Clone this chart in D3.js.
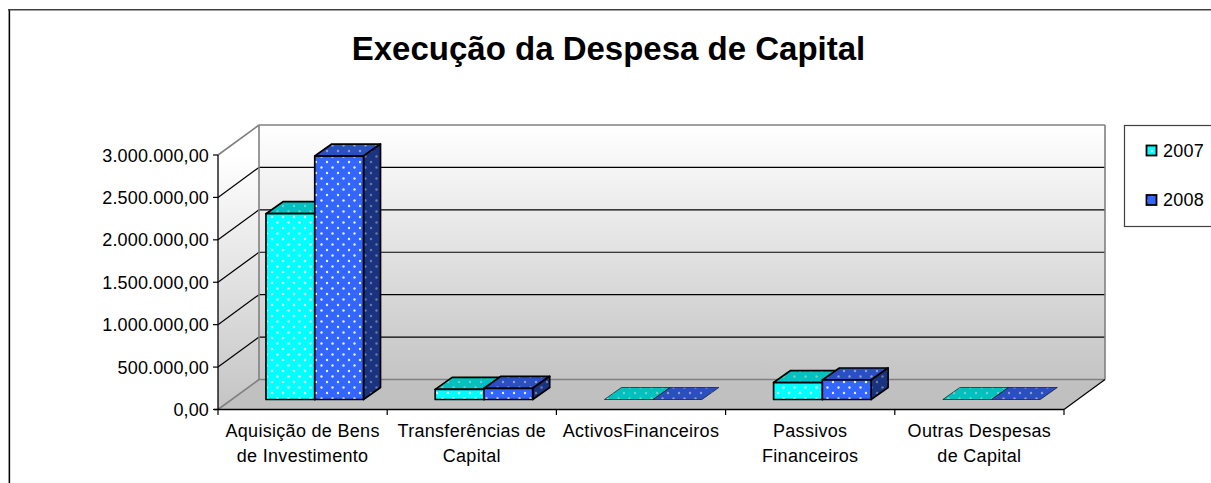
<!DOCTYPE html>
<html><head><meta charset="utf-8">
<script src="https://cdn.jsdelivr.net/npm/d3@7"></script>
<style>html,body{margin:0;padding:0;background:#fff;overflow:hidden}svg{display:block}text{font-family:"Liberation Sans",Arial,sans-serif;fill:#000}</style>
</head><body><svg id="c" width="1211" height="483"></svg>
<script>
const titleText = "Execução da Despesa de Capital";
const categories = ["Aquisição de Bens de Investimento","Transferências de Capital","ActivosFinanceiros","Passivos Financeiros","Outras Despesas de Capital"];
const categoryLines = [["Aquisição de Bens","de Investimento"],["Transferências de","Capital"],["ActivosFinanceiros"],["Passivos","Financeiros"],["Outras Despesas","de Capital"]];
const seriesNames = ["2007","2008"];
const values2007 = [2190000,120000,0,200000,0];
const values2008 = [2870000,132000,0,230000,0];
const tickValues = [0,500000,1000000,1500000,2000000,2500000,3000000];
const tickLabels = ["0,00","500.000,00","1.000.000,00","1.500.000,00","2.000.000,00","2.500.000,00","3.000.000,00"];

const svg = d3.select("#c"), defs = svg.append("defs");
const L=218,R=1064,T=155,B=409.5,DX=41,DY=-30,BDX=17,BDY=-12,baseY=-10;
const x = d3.scaleBand().domain(categories).range([L,R]);
const xs = d3.scaleBand().domain(seriesNames).range([48,145.5]);
const y = d3.scaleLinear().domain([0,3000000]).range([B,T]);
const line = d3.line();
const poly = (pts,fill,stroke,sw)=>svg.append("path").attr("d",line(pts)+"Z").attr("fill",fill).attr("stroke",stroke||"none").attr("stroke-width",sw||0).attr("stroke-linejoin","round");
const seg = (a,b,c,w)=>svg.append("line").attr("x1",a[0]).attr("y1",a[1]).attr("x2",b[0]).attr("y2",b[1]).attr("stroke",c).attr("stroke-width",w||1.3);

// outer frame
seg([8.5,9.5],[8.5,483],"#b0b0b0",1); seg([9.5,10],[9.5,483],"#000",1.3);
seg([8,9.7],[1211,9.7],"#404040",1.6);

// walls
const g = defs.append("linearGradient").attr("id","wall").attr("gradientUnits","userSpaceOnUse").attr("x1",0).attr("x2",0).attr("y1",T+DY).attr("y2",B+DY);
g.append("stop").attr("offset",0).attr("stop-color","#ffffff");
g.append("stop").attr("offset",1).attr("stop-color","#c4c4c4");
const g2 = defs.append("linearGradient").attr("id","wallL").attr("gradientUnits","userSpaceOnUse").attr("x1",0).attr("x2",0).attr("y1",T).attr("y2",B);
g2.append("stop").attr("offset",0).attr("stop-color","#ffffff");
g2.append("stop").attr("offset",1).attr("stop-color","#c4c4c4");
poly([[L+DX,T+DY],[R+DX,T+DY],[R+DX,B+DY],[L+DX,B+DY]],"url(#wall)");
poly([[L,T],[L+DX,T+DY],[L+DX,B+DY],[L,B]],"url(#wallL)");
poly([[L,B],[L+DX,B+DY],[R+DX,B+DY],[R,B]],"#c0c0c0");

// gridlines
tickValues.forEach((v,i)=>{
  const yy=y(v);
  if(i>0&&i<tickValues.length-1){
    seg([L,yy],[L+DX,yy+DY],"#000",1.2);
    seg([L+DX,yy+DY],[R+DX,yy+DY],"#000",1.2);
  }
});
const GR="#808080";
seg([L,T],[L+DX,T+DY],GR,1.6);
seg([L+DX,T+DY],[R+DX,T+DY],GR,1.6);
seg([L+DX,T+DY],[L+DX,B+DY],GR,1.6);
seg([R+DX,T+DY],[R+DX,B+DY],GR,1.6);
seg([L,B],[L+DX,B+DY],GR,1.6);
seg([L+DX,B+DY],[R+DX,B+DY],GR,1.6);
seg([R,B],[R+DX,B+DY],"#000",1.2);

// axes
seg([L,T],[L,B],"#000",1.3);
seg([L-4,B],[R,B],"#000",1.3);
tickValues.forEach((v,i)=>{
  seg([L-5,y(v)],[L,y(v)],"#000",1.2);
  svg.append("text").attr("x",209).attr("y",y(v)+6.5).attr("text-anchor","end").attr("font-size",18).attr("letter-spacing",0.13).text(tickLabels[i]);
});
categories.concat([null]).forEach((c,i)=>{
  const xx = c? x(c): R;
  seg([xx,B],[xx,B+5.5],"#000",1.2);
});
categories.forEach((c,i)=>{
  categoryLines[i].forEach((t,j)=>{
    svg.append("text").attr("x",x(c)+x.bandwidth()/2).attr("y",436.5+j*25).attr("text-anchor","middle").attr("font-size",18).attr("letter-spacing",0.3).text(t);
  });
});

// patterns
function pat(id,bg,dot,op){
  const p=defs.append("pattern").attr("id",id).attr("patternUnits","userSpaceOnUse").attr("width",11).attr("height",11);
  p.append("rect").attr("width",11).attr("height",11).attr("fill",bg);
  [[2.5,2.5],[8,8]].forEach(d=>p.append("circle").attr("cx",d[0]).attr("cy",d[1]).attr("r",1.2).attr("fill",dot).attr("opacity",op));
}
const faces = {"2007":{f:"#00ffff",t:"#00c0c0",s:"#008f8f"},"2008":{f:"#3366ff",t:"#2a4fc0",s:"#1a3380"}};
seriesNames.forEach(n=>{
  pat("f"+n,faces[n].f,"#fff",0.9);
  pat("t"+n,faces[n].t,"#d0d0d0",0.6);
  pat("s"+n,faces[n].s,"#c0c0c0",0.5);
});

// bars
const series = {"2007":values2007,"2008":values2008};
categories.forEach((c,i)=>{
  seriesNames.forEach(n=>{
    const v=series[n][i], x0=x(c)+xs(n), x1=x0+xs.bandwidth(), y0=B+baseY, y1=y(v)+baseY;
    const flat = v===0, sw=1.7, st="#000";
    poly([[x0,y1],[x0+BDX,y1+BDY],[x1+BDX,y1+BDY],[x1,y1]],"url(#t"+n+")",st,flat?0.6:sw);
    if(!flat){
      poly([[x1,y1],[x1+BDX,y1+BDY],[x1+BDX,y0+BDY],[x1,y0]],"url(#s"+n+")",st,sw);
      poly([[x0,y1],[x1,y1],[x1,y0],[x0,y0]],"url(#f"+n+")",st,sw);
    }
  });
});

// title
svg.append("text").attr("x",608.5).attr("y",60).attr("text-anchor","middle").attr("font-size",33).attr("font-weight","bold").text(titleText);

// legend
svg.append("rect").attr("x",1124.5).attr("y",125.5).attr("width",100).attr("height",101).attr("fill","#fff").attr("stroke","#404040").attr("stroke-width",1.2);
seriesNames.forEach((n,i)=>{
  const yy=145.5+i*49.5;
  svg.append("rect").attr("x",1146.5).attr("y",yy).attr("width",10).attr("height",10).attr("fill","url(#f"+n+")").attr("stroke","#000").attr("stroke-width",1.8);
  svg.append("text").attr("x",1163).attr("y",yy+11).attr("font-size",18).attr("letter-spacing",0.2).text(n);
});
</script></body></html>
